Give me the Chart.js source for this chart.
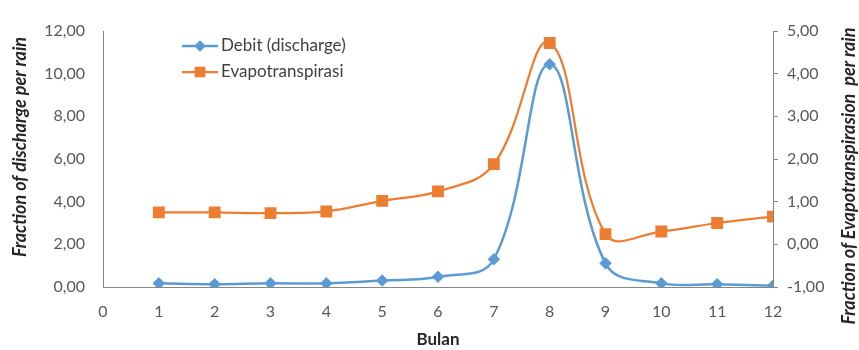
<!DOCTYPE html>
<html>
<head>
<meta charset="utf-8">
<script src="https://cdn.jsdelivr.net/npm/chart.js@4"></script>
<style>
  html, body { margin: 0; padding: 0; background: #ffffff; }
  #wrap { width: 859px; height: 350px; }
</style>
</head>
<body>
<div id="wrap"><canvas id="c" width="859" height="350"></canvas></div>
<script>
// ---- data ----
const months = [1, 2, 3, 4, 5, 6, 7, 8, 9, 10, 11, 12];
const debit = [0.17, 0.13, 0.17, 0.17, 0.30, 0.48, 1.30, 10.44, 1.11, 0.17, 0.13, 0.06];
const evapo = [0.75, 0.75, 0.73, 0.77, 1.02, 1.24, 1.88, 4.72, 0.24, 0.30, 0.50, 0.65];
const seriesLabels = ['Debit (discharge)', 'Evapotranspirasi'];
const xTitle = 'Bulan';
const leftTitle = 'Fraction of discharge per rain';
const rightTitle = 'Fraction of Evapotranspirasion  per rain';

const BLUE = '#5B9BD5';
const ORANGE = '#ED7D31';
const AXIS = '#868686';
const TICK = '#595959';
const FONT = 'Lato';

const fmt = v => Number(v).toFixed(2).replace('.', ',');

const legendPlugin = {
  id: 'insideLegend',
  afterDraw(chart) {
    const ctx = chart.ctx;
    ctx.save();
    chart.data.datasets.forEach((ds, i) => {
      const y = 46 + i * 26;
      ctx.strokeStyle = ds.borderColor;
      ctx.lineWidth = ds.borderWidth;
      ctx.beginPath();
      ctx.moveTo(182, y);
      ctx.lineTo(218, y);
      ctx.stroke();
      ctx.fillStyle = ds.pointBackgroundColor;
      ctx.strokeStyle = ds.pointBorderColor;
      Chart.helpers.drawPoint(ctx, {
        pointStyle: ds.pointStyle,
        radius: ds.legendRadius,
        rotation: 0,
        borderWidth: 1
      }, 200, y);
      ctx.fillStyle = '#404040';
      ctx.font = '17px ' + FONT;
      ctx.textAlign = 'left';
      ctx.textBaseline = 'middle';
      ctx.fillText(ds.label, 221, y);
    });
    ctx.restore();
  }
};

const sideTitlesPlugin = {
  id: 'sideTitles',
  afterDraw(chart) {
    const ctx = chart.ctx;
    ctx.save();
    ctx.fillStyle = '#262626';
    ctx.font = 'italic bold 18px ' + FONT;
    ctx.textAlign = 'center';
    ctx.textBaseline = 'middle';
    ctx.save();
    ctx.translate(20, 147);
    ctx.rotate(-Math.PI / 2);
    ctx.fillText(leftTitle, 0, 0);
    ctx.restore();
    ctx.save();
    ctx.translate(849, 176);
    ctx.rotate(-Math.PI / 2);
    ctx.fillText(rightTitle, 0, 0);
    ctx.restore();
    ctx.restore();
  }
};

new Chart(document.getElementById('c'), {
  type: 'line',
  data: {
    datasets: [
      {
        label: seriesLabels[0],
        data: months.map((m, i) => ({ x: m, y: debit[i] })),
        yAxisID: 'y',
        borderColor: BLUE,
        backgroundColor: BLUE,
        pointBackgroundColor: BLUE,
        pointBorderColor: BLUE,
        borderWidth: 2.5,
        pointStyle: 'rectRot',
        pointRadius: 4.5,
        legendRadius: 4,
        tension: 0.4,
        fill: false
      },
      {
        label: seriesLabels[1],
        data: months.map((m, i) => ({ x: m, y: evapo[i] })),
        yAxisID: 'y1',
        borderColor: ORANGE,
        backgroundColor: ORANGE,
        pointBackgroundColor: ORANGE,
        pointBorderColor: ORANGE,
        borderWidth: 2.25,
        pointStyle: 'rect',
        pointRadius: 6.8,
        legendRadius: 6,
        tension: 0.4,
        fill: false
      }
    ]
  },
  options: {
    responsive: false,
    animation: false,
    events: [],
    layout: { padding: { top: 31, left: 0, right: 0, bottom: 0 } },
    plugins: {
      legend: { display: false },
      tooltip: { enabled: false },
      title: { display: false }
    },
    scales: {
      x: {
        type: 'linear',
        min: 0,
        max: 12,
        grid: { display: false, drawTicks: false },
        border: { display: true, color: AXIS, width: 1 },
        ticks: {
          stepSize: 1,
          padding: 15,
          color: TICK,
          font: { family: FONT, size: 16 },
          maxRotation: 0
        },
        title: {
          display: true,
          text: xTitle,
          color: '#262626',
          font: { family: FONT, size: 17, weight: 'bold' },
          padding: { top: 0, bottom: 0 }
        },
        afterFit(s) { s.height = 63; }
      },
      y: {
        type: 'linear',
        position: 'left',
        min: 0,
        max: 12,
        grid: { display: false, drawTicks: false },
        border: { display: true, color: AXIS, width: 1 },
        ticks: {
          stepSize: 2,
          padding: 18,
          color: TICK,
          font: { family: FONT, size: 16 },
          callback: v => fmt(v)
        },
        afterFit(s) { s.width = 103; }
      },
      y1: {
        type: 'linear',
        position: 'right',
        min: -1,
        max: 5,
        grid: { display: true, drawOnChartArea: false, drawTicks: true, tickLength: 5, color: AXIS },
        border: { display: true, color: AXIS, width: 1 },
        ticks: {
          stepSize: 1,
          padding: 9,
          color: TICK,
          font: { family: FONT, size: 16 },
          callback: v => fmt(v)
        },
        afterFit(s) { s.width = 86; }
      }
    }
  },
  plugins: [legendPlugin, sideTitlesPlugin]
});
</script>
</body>
</html>
